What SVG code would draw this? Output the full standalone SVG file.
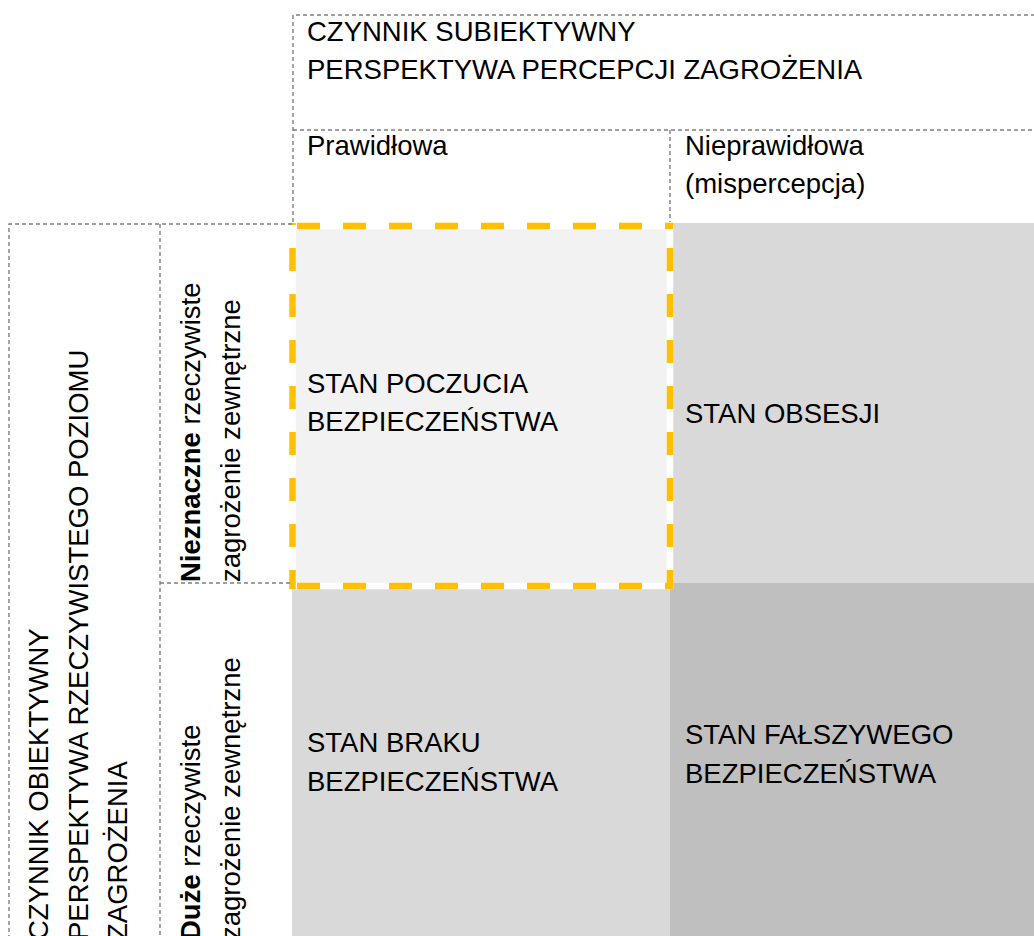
<svg xmlns="http://www.w3.org/2000/svg" width="1034" height="936" viewBox="0 0 1034 936">
<defs>
<style>
text{font-family:"Liberation Sans",Arial,sans-serif;font-size:27.5px;fill:#000}
.b{font-weight:bold}
.dash{stroke:#7f7f7f;stroke-width:1.4;stroke-dasharray:4 3;fill:none}
.yel{stroke:#ffc000;stroke-width:6.5;stroke-dasharray:23 23;fill:none}
</style>
</defs>
<rect width="1034" height="936" fill="#fff"/>
<g id="cell-bezpieczenstwo">
<rect x="292" y="226" width="378" height="360" fill="#f2f2f2"/>
</g>
<g id="cell-obsesja">
<rect x="670" y="223" width="364" height="360" fill="#d9d9d9"/>
<text x="685" y="423">STAN OBSESJI</text>
</g>
<g id="cell-brak">
<rect x="292" y="586" width="378" height="350" fill="#d9d9d9"/>
<text x="307" y="752">STAN BRAKU</text>
<text x="307" y="791">BEZPIECZEŃSTWA</text>
</g>
<g id="cell-falszywe">
<rect x="670" y="583" width="364" height="353" fill="#bfbfbf"/>
<text x="685" y="744">STAN FAŁSZYWEGO</text>
<text x="685" y="783">BEZPIECZEŃSTWA</text>
</g>
<g id="highlight">
<rect x="292.5" y="226" width="377.5" height="360" fill="none" stroke="#fff" stroke-width="6.5"/>
<line class="yel" x1="289" y1="226" x2="673" y2="226" stroke-dashoffset="38"/>
<line class="yel" x1="289" y1="586" x2="673" y2="586" stroke-dashoffset="38"/>
<line class="yel" x1="292.5" y1="223" x2="292.5" y2="589" stroke-dashoffset="21"/>
<line class="yel" x1="670" y1="223" x2="670" y2="589" stroke-dashoffset="21"/>
<text x="307" y="393">STAN POCZUCIA</text>
<text x="307" y="431">BEZPIECZEŃSTWA</text>
</g>
<g id="connectors">
<path class="dash" d="M293,222 V15 H1040 M293,130 H1040 M670,130 V222"/>
<path class="dash" d="M292,224 H9 V940 M160,224 V940 M160,583 H292"/>
</g>
<g id="header-subiektywny">
<text x="307" y="41">CZYNNIK SUBIEKTYWNY</text>
<text x="307" y="79">PERSPEKTYWA PERCEPCJI ZAGROŻENIA</text>
</g>
<g id="header-prawidlowa">
<text x="307" y="155">Prawidłowa</text>
</g>
<g id="header-nieprawidlowa">
<text x="685" y="155">Nieprawidłowa</text>
<text x="685" y="193">(mispercepcja)</text>
</g>
<g id="header-obiektywny">
<text transform="translate(48,940) rotate(-90)">CZYNNIK OBIEKTYWNY</text>
<text transform="translate(88,940) rotate(-90)">PERSPEKTYWA RZECZYWISTEGO POZIOMU</text>
<text transform="translate(127,940) rotate(-90)">ZAGROŻENIA</text>
</g>
<g id="header-nieznaczne">
<text transform="translate(200,582) rotate(-90)"><tspan class="b">Nieznaczne</tspan> rzeczywiste</text>
<text transform="translate(240,582) rotate(-90)">zagrożenie zewnętrzne</text>
</g>
<g id="header-duze">
<text transform="translate(200,940) rotate(-90)"><tspan class="b">Duże</tspan> rzeczywiste</text>
<text transform="translate(240,940) rotate(-90)">zagrożenie zewnętrzne</text>
</g>
</svg>
